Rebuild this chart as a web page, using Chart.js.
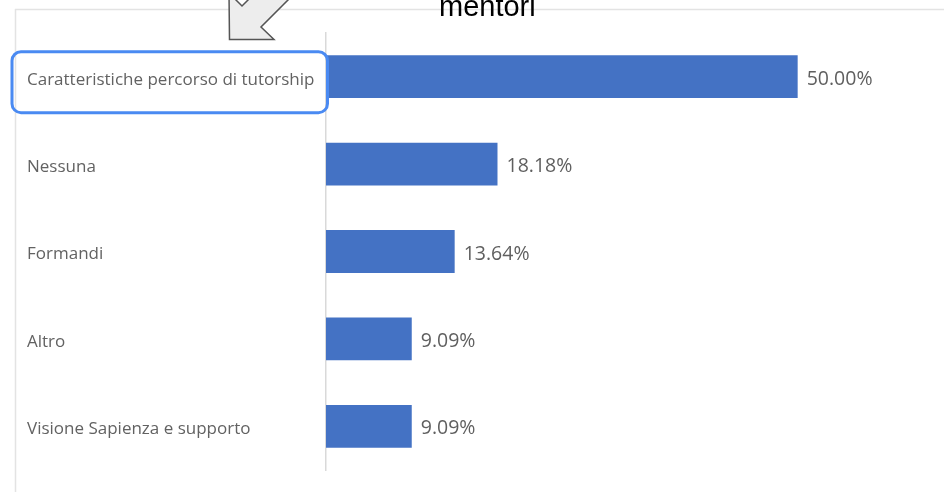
<!DOCTYPE html>
<html>
<head>
<meta charset="utf-8">
<script src="https://cdn.jsdelivr.net/npm/chart.js@4/dist/chart.umd.min.js"></script>
<style>
  html, body { margin: 0; padding: 0; background: #ffffff; }
  #wrap { position: relative; width: 944px; height: 492px; }
</style>
</head>
<body>
<div id="wrap"><canvas id="c" width="944" height="492"></canvas></div>
<script>
// Categories and their shares (percent)
const categories = [
  'Caratteristiche percorso di tutorship',
  'Nessuna',
  'Formandi',
  'Altro',
  'Visione Sapienza e supporto'
];
const shares = [50.00, 18.18, 13.64, 9.09, 9.09];
const subtitleText = 'mentori';

// Light frame around the panel
const framePlugin = {
  id: 'frame',
  beforeDraw(chart) {
    const ctx = chart.ctx;
    ctx.save();
    ctx.fillStyle = '#ffffff';
    ctx.fillRect(0, 0, chart.width, chart.height);
    ctx.strokeStyle = '#e3e3e3';
    ctx.lineWidth = 1.5;
    ctx.beginPath();
    ctx.moveTo(15, 9.5);
    ctx.lineTo(chart.width, 9.5);
    ctx.moveTo(15.5, 9);
    ctx.lineTo(15.5, chart.height);
    ctx.stroke();
    ctx.restore();
  }
};

// Percentage labels at the end of each bar
const valueLabels = {
  id: 'valueLabels',
  afterDatasetsDraw(chart) {
    const ctx = chart.ctx;
    const meta = chart.getDatasetMeta(0);
    ctx.save();
    ctx.fillStyle = '#5f5f5f';
    ctx.font = '19.5px "Open Sans"';
    ctx.textAlign = 'left';
    ctx.textBaseline = 'middle';
    meta.data.forEach((bar, i) => {
      ctx.fillText(shares[i].toFixed(2) + '%', bar.x + 9, bar.y + 2.5);
    });
    ctx.restore();
  }
};

// Callout: arrow, heading fragment and the highlight around the first category
const callout = {
  id: 'callout',
  afterDraw(chart) {
    const ctx = chart.ctx;
    const yScale = chart.scales.y;
    const y0 = yScale.getPixelForValue(0);
    ctx.save();

    // block arrow pointing down-left
    ctx.beginPath();
    ctx.moveTo(229, -7);
    ctx.lineTo(242, 6);
    ctx.lineTo(292, -44);
    ctx.lineTo(311, -23);
    ctx.lineTo(261, 27);
    ctx.lineTo(274, 39.5);
    ctx.lineTo(229.5, 39.5);
    ctx.closePath();
    ctx.fillStyle = '#ededed';
    ctx.fill();
    ctx.strokeStyle = '#555555';
    ctx.lineWidth = 1.5;
    ctx.stroke();

    // heading fragment
    ctx.fillStyle = '#000000';
    ctx.font = '29px "Liberation Sans", Arial, sans-serif';
    ctx.textAlign = 'left';
    ctx.textBaseline = 'alphabetic';
    ctx.fillText(subtitleText, 439, 16);

    // rounded highlight
    ctx.beginPath();
    ctx.roundRect(12, y0 - 25, 315.5, 61, 9);
    ctx.strokeStyle = '#4a8af2';
    ctx.lineWidth = 3;
    ctx.stroke();
    ctx.restore();
  }
};

new Chart(document.getElementById('c'), {
  type: 'bar',
  data: {
    labels: categories,
    datasets: [{
      data: shares,
      backgroundColor: '#4472c4',
      borderWidth: 0,
      categoryPercentage: 1,
      barPercentage: 0.49
    }]
  },
  options: {
    indexAxis: 'y',
    responsive: false,
    animation: false,
    devicePixelRatio: 1,
    layout: { padding: { left: 27, right: 52, top: 33, bottom: 22 } },
    plugins: {
      legend: { display: false },
      tooltip: { enabled: false }
    },
    scales: {
      x: {
        display: false,
        min: 0,
        max: 60
      },
      y: {
        afterFit(scale) { scale.width = 299; },
        grid: { display: false },
        border: { display: true, color: '#d9d9d9', width: 1.5 },
        ticks: {
          crossAlign: 'far',
          color: '#626262',
          font: { family: '"Open Sans"', size: 17 },
          padding: 0,
          labelOffset: 3
        }
      }
    }
  },
  plugins: [framePlugin, valueLabels, callout]
});
</script>
</body>
</html>
